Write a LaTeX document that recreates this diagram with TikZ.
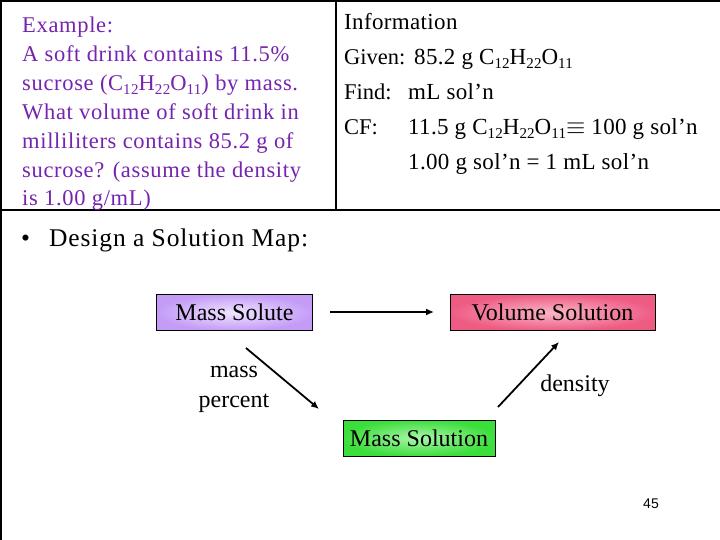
\documentclass[tikz,border=0pt]{standalone}
\usepackage{fontspec}
\setmainfont{Liberation Serif}
\newfontfamily\pagenumfont{Liberation Sans}
\usetikzlibrary{arrows.meta}
\definecolor{exviolet}{RGB}{118,36,176}
\definecolor{lavout}{RGB}{196,156,246}
\definecolor{lavin}{RGB}{240,228,255}
\definecolor{pinkout}{RGB}{238,92,132}
\definecolor{pinkin}{RGB}{250,182,198}
\definecolor{greenout}{RGB}{60,222,60}
\definecolor{greenin}{RGB}{170,246,170}
\newcommand\sbs[1]{\raisebox{-0.32ex}{\fontsize{15}{15}\selectfont #1}}
\tikzset{
  frame/.style={line width=1.3pt, black},
  exline/.style={anchor=base west, inner sep=0pt, text=exviolet, font=\fontsize{22.5}{26}\selectfont\addfontfeature{LetterSpace=3}},
  infoline/.style={anchor=base west, inner sep=0pt, text=black, font=\fontsize{23}{27}\selectfont\addfontfeature{LetterSpace=1.5}},
  infolabel/.style={anchor=base west, inner sep=0pt, text=black, font=\fontsize{22.5}{27}\selectfont},
  mapbox/.style={draw=black, line width=0.6pt, shading=radial, minimum height=36pt, inner sep=0pt, font=\fontsize{24}{28}\selectfont},
  maparrow/.style={-{Latex[length=8pt,width=7pt]}, line width=1.8pt},
  maplabel/.style={inner sep=0pt, font=\fontsize{24}{28}\selectfont, align=center}
}
\begin{document}
\begin{tikzpicture}[x=1pt,y=-1pt]
\useasboundingbox (0,0) rectangle (720,540);
\fill[white] (0,0) rectangle (720,540);
% frame lines
\draw[frame] (1,0) -- (1,540);
\draw[frame] (0,1) -- (720,1);
\draw[frame] (0,210) -- (720,210);
\draw[frame] (336,0) -- (336,210);
% example text
\node[exline] (e1) at (22,33) {Example:};
\node[exline] (e2) at (22,62) {A soft drink contains 11.5\%};
\node[exline] (e3) at (22,91) {sucrose (C\sbs{12}H\sbs{22}O\sbs{11}) by mass.};
\node[exline] (e4) at (22,120) {What volume of soft drink in};
\node[exline] (e5) at (22,149) {milliliters contains 85.2 g of};
\node[exline] (e6) at (22,178) {sucrose? (assume the density};
\node[exline] (e7) at (22,206) {is 1.00 g/mL)};
% information
\node[infoline] (i1) at (344,30) {Information};
\node[infolabel] (i2) at (344,65) {Given:};
\node[infoline] (i2b) at (414,65) {85.2 g C\sbs{12}H\sbs{22}O\sbs{11}};
\node[infolabel] (i3) at (344,100) {Find:};
\node[infoline] (i3b) at (408,100) {mL sol’n};
\node[infolabel] (i4) at (344,135) {CF:};
\node[infoline] (i4b) at (408,135) {11.5 g C\sbs{12}H\sbs{22}O\sbs{11}$\equiv$ 100 g sol’n};
\node[infoline] (i5b) at (408,170) {1.00 g sol’n = 1 mL sol’n};
% bullet
\node[anchor=base west, inner sep=0pt, font=\fontsize{25.5}{29}\selectfont\addfontfeature{LetterSpace=3.5}] (bul) at (21,247) {\textbullet\hspace{19pt}Design a Solution Map:};
% map boxes
\node[mapbox, minimum width=156pt, inner color=lavin, outer color=lavout] (ms) at (234.5,312.5) {Mass Solute};
\node[mapbox, minimum width=205pt, inner color=pinkin, outer color=pinkout] (vs) at (552.5,312.5) {Volume Solution};
\node[mapbox, minimum width=152pt, inner color=greenin, outer color=greenout] (msn) at (419,438) {Mass Solution};
% arrows
\coordinate (h1) at (330,312);
\coordinate (h2) at (434,312);
\coordinate (d1) at (246,348);
\coordinate (d2) at (319,409);
\coordinate (u1) at (498,407);
\coordinate (u2) at (559,342);
\draw[maparrow] (h1) -- (h2);
\draw[maparrow] (d1) -- (d2);
\draw[maparrow] (u1) -- (u2);
% labels
\node[maplabel] (lm) at (234,389) {mass\\[2pt]percent};
\node[maplabel] (ld) at (575,386) {density};
% page number
\node[inner sep=0pt, font=\pagenumfont\fontsize{14}{16}\selectfont] (pn) at (651,504) {45};
\end{tikzpicture}
\end{document}
